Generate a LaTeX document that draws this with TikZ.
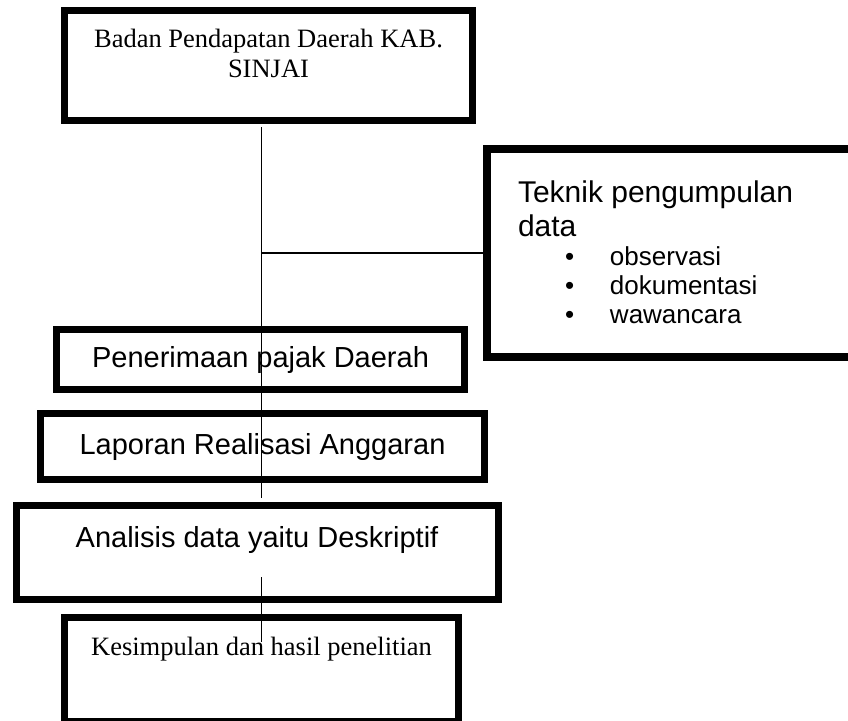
\documentclass[tikz,border=0pt]{standalone}
\usepackage{fontspec}
\setmainfont{Liberation Serif}
\setsansfont{Liberation Sans}

\begin{document}
\begin{tikzpicture}[
  x=1pt, y=-1pt,
  box/.style={draw, line width=7pt, outer sep=3.5pt, inner sep=0pt},
  serif/.style={font={\rmfamily\fontsize{26.5}{30}\selectfont}},
  sans/.style={font={\sffamily\fontsize{29}{33}\selectfont}},
  link/.style={line width=1.3pt}
]
  \useasboundingbox (0,0) rectangle (848,720);
  \coordinate (spine) at (261.7,0);

  \node[box, serif, anchor=north, minimum width=408pt, text height=36.5pt, text depth=73.5pt] (dinas) at (268.5,7)
    {\parbox[t]{400pt}{\centering Badan Pendapatan Daerah KAB.\\SINJAI}};
  \node[box, sans, anchor=north west, line width=8pt, outer sep=4pt, inner xsep=31pt, minimum width=393pt, text height=53pt, text depth=155pt] (teknik) at (483,145)
    {\parbox[t]{331pt}{\fontsize{30}{34}\selectfont Teknik pengumpulan\\data\par
      \fontsize{26}{29}\selectfont
      \hspace*{47pt}\makebox[45pt][l]{\textbullet}observasi\\
      \hspace*{47pt}\makebox[45pt][l]{\textbullet}dokumentasi\\
      \hspace*{47pt}\makebox[45pt][l]{\textbullet}wawancara}};
  \node[box, sans, anchor=north, minimum width=408pt, minimum height=60pt] (pajak) at (260.5,326) {Penerimaan pajak Daerah};
  \node[box, sans, anchor=north, minimum width=444pt, minimum height=66pt] (lra) at (262.5,410) {Laporan Realisasi Anggaran};
  \node[box, sans, anchor=north, minimum width=482pt, text height=42pt, text depth=52pt] (analisis) at (257,502) {Analisis data yaitu Deskriptif};
  \node[box, serif, anchor=north, minimum width=394pt, text height=38pt, text depth=65.5pt] (hasil) at (261.5,614) {Kesimpulan dan hasil penelitian};

  \draw[link] ([yshift=-3pt]spine |- dinas.south) -- ([yshift=4pt]spine |- analisis.north);
  \draw[link] (spine |- teknik.west) -- (teknik.west);
  \draw[link] ([yshift=26pt]spine |- analisis.south) -- ([yshift=-28pt]spine |- hasil.north);
\end{tikzpicture}
\end{document}
